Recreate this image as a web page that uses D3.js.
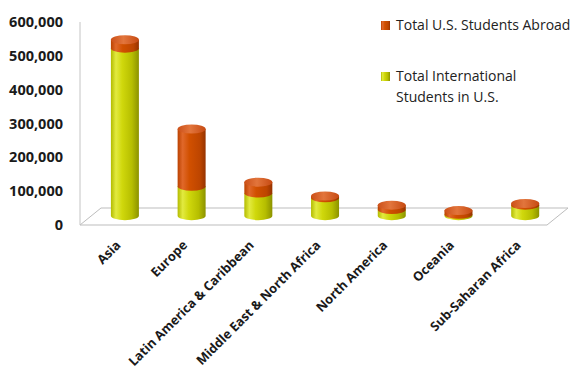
<!DOCTYPE html>
<html>
<head>
<meta charset="utf-8">
<script src="https://cdn.jsdelivr.net/npm/d3@7"></script>
<style>
  body { margin: 0; background: #fff; }
  svg { display: block; }
</style>
</head>
<body>
<div id="chart"></div>
<script>
// data
var regions = ["Asia", "Europe", "Latin America & Caribbean", "Middle East & North Africa",
  "North America", "Oceania", "Sub-Saharan Africa"];
var intlStudents = [495000, 87000, 67000, 53000, 18000, 4000, 31000];
var usAbroad = [25000, 169000, 32000, 5000, 13000, 11000, 5000];
var yTicks = [0, 100000, 200000, 300000, 400000, 500000, 600000];
var seriesNames = ["Total U.S. Students Abroad", "Total International Students in U.S."];

var width = 573, height = 373;

var svg = d3.select("#chart")
  .append("svg")
    .attr("width", width)
    .attr("height", height);

var defs = svg.append("defs");

function addGradient(id, stops) {
  var g = defs.append("linearGradient")
    .attr("id", id)
    .attr("x1", "0%").attr("x2", "100%")
    .attr("y1", "0%").attr("y2", "0%");
  stops.forEach(function(s) {
    g.append("stop").attr("offset", s[0]).attr("stop-color", s[1]);
  });
}
addGradient("gGreen", [[0, "#b3bb00"], [0.18, "#e2ea40"], [0.4, "#d0d80c"], [0.75, "#b6be00"], [1, "#8c9200"]]);
addGradient("gOrange", [[0, "#bb4200"], [0.18, "#e0682a"], [0.42, "#d15000"], [0.8, "#bd4500"], [1, "#963300"]]);
addGradient("gTop", [[0, "#cc5018"], [0.45, "#e2753c"], [1, "#c64a12"]]);

// 3d floor: front edge and depth vector
var front = {x0: 80, x1: 547, y: 225};
var depth = {dx: 21, dy: -17};
var f = 0.55; // cylinders sit a bit past mid depth

var x = d3.scaleBand()
  .domain(regions)
  .range([front.x0, front.x1]);

var y = d3.scaleLinear()
  .domain([0, 600000])
  .range([front.y, 22]);

// floor + left edge
var floor = [[front.x0, front.y], [front.x1, front.y],
  [front.x1 + depth.dx, front.y + depth.dy], [front.x0 + depth.dx, front.y + depth.dy]];
svg.append("polygon")
  .attr("points", floor.map(function(p) { return p.join(","); }).join(" "))
  .attr("fill", "#fff")
  .attr("stroke", "#bdbdbd")
  .attr("stroke-width", 1);

svg.append("line")
  .attr("x1", front.x0).attr("x2", front.x0)
  .attr("y1", y(600000)).attr("y2", y(0))
  .attr("stroke", "#c4c4c4");

// y axis
var yAxis = svg.append("g")
  .attr("transform", "translate(63,0)")
  .call(d3.axisLeft(y).tickValues(yTicks).tickFormat(d3.format(",")).tickSize(0).tickPadding(0));
yAxis.select(".domain").remove();
yAxis.selectAll("text")
  .attr("fill", "#1a1a1a")
  .style("font-family", "'Open Sans', sans-serif")
  .style("font-weight", "bold")
  .style("font-size", "14.5px");

// x axis labels
var xAxis = svg.append("g")
  .attr("transform", "translate(0," + front.y + ")")
  .call(d3.axisBottom(x).tickSize(0));
xAxis.select(".domain").remove();
xAxis.selectAll("text")
  .attr("x", 0).attr("y", 0).attr("dy", 0)
  .attr("transform", "translate(8,21) rotate(-45)")
  .style("text-anchor", "end")
  .attr("fill", "#1a1a1a")
  .style("font-family", "'Open Sans', sans-serif")
  .style("font-weight", "bold")
  .style("font-size", "12.8px");

// cylinders
var rx = 14, ry = 4.5;
function cy(v) { return y(v) + depth.dy * f; }

function sidePath(cx, yTop, yBot) {
  return "M" + (cx - rx) + "," + yTop +
    "L" + (cx - rx) + "," + yBot +
    "A" + rx + "," + ry + " 0 0 0 " + (cx + rx) + "," + yBot +
    "L" + (cx + rx) + "," + yTop + "Z";
}

var bars = svg.append("g").selectAll("g")
  .data(regions)
  .enter().append("g");

bars.each(function(d, i) {
  var g = d3.select(this);
  var cx = x(d) + x.bandwidth() / 2 + depth.dx * f;
  var y0 = cy(0), y1 = cy(intlStudents[i]), y2 = cy(intlStudents[i] + usAbroad[i]);
  g.append("path").attr("d", sidePath(cx, y1, y0)).attr("fill", "url(#gGreen)");
  g.append("path").attr("d", sidePath(cx, y2, y1)).attr("fill", "url(#gOrange)");
  g.append("ellipse")
    .attr("cx", cx).attr("cy", y2)
    .attr("rx", rx).attr("ry", ry)
    .attr("fill", "url(#gTop)");
});

// legend
var legend = svg.append("g")
  .style("font-family", "'Open Sans', sans-serif")
  .style("font-size", "14px")
  .attr("fill", "#222");

legend.append("rect").attr("x", 381).attr("y", 21).attr("width", 9).attr("height", 9).attr("fill", "url(#gOrange)");
legend.append("text").attr("x", 396).attr("y", 30).text(seriesNames[0]);

legend.append("rect").attr("x", 381).attr("y", 72).attr("width", 9).attr("height", 9).attr("fill", "url(#gGreen)");
var t2 = legend.append("text").attr("x", 396).attr("y", 81);
t2.append("tspan").attr("x", 396).text("Total International");
t2.append("tspan").attr("x", 396).attr("dy", 21).text("Students in U.S.");
</script>
</body>
</html>
